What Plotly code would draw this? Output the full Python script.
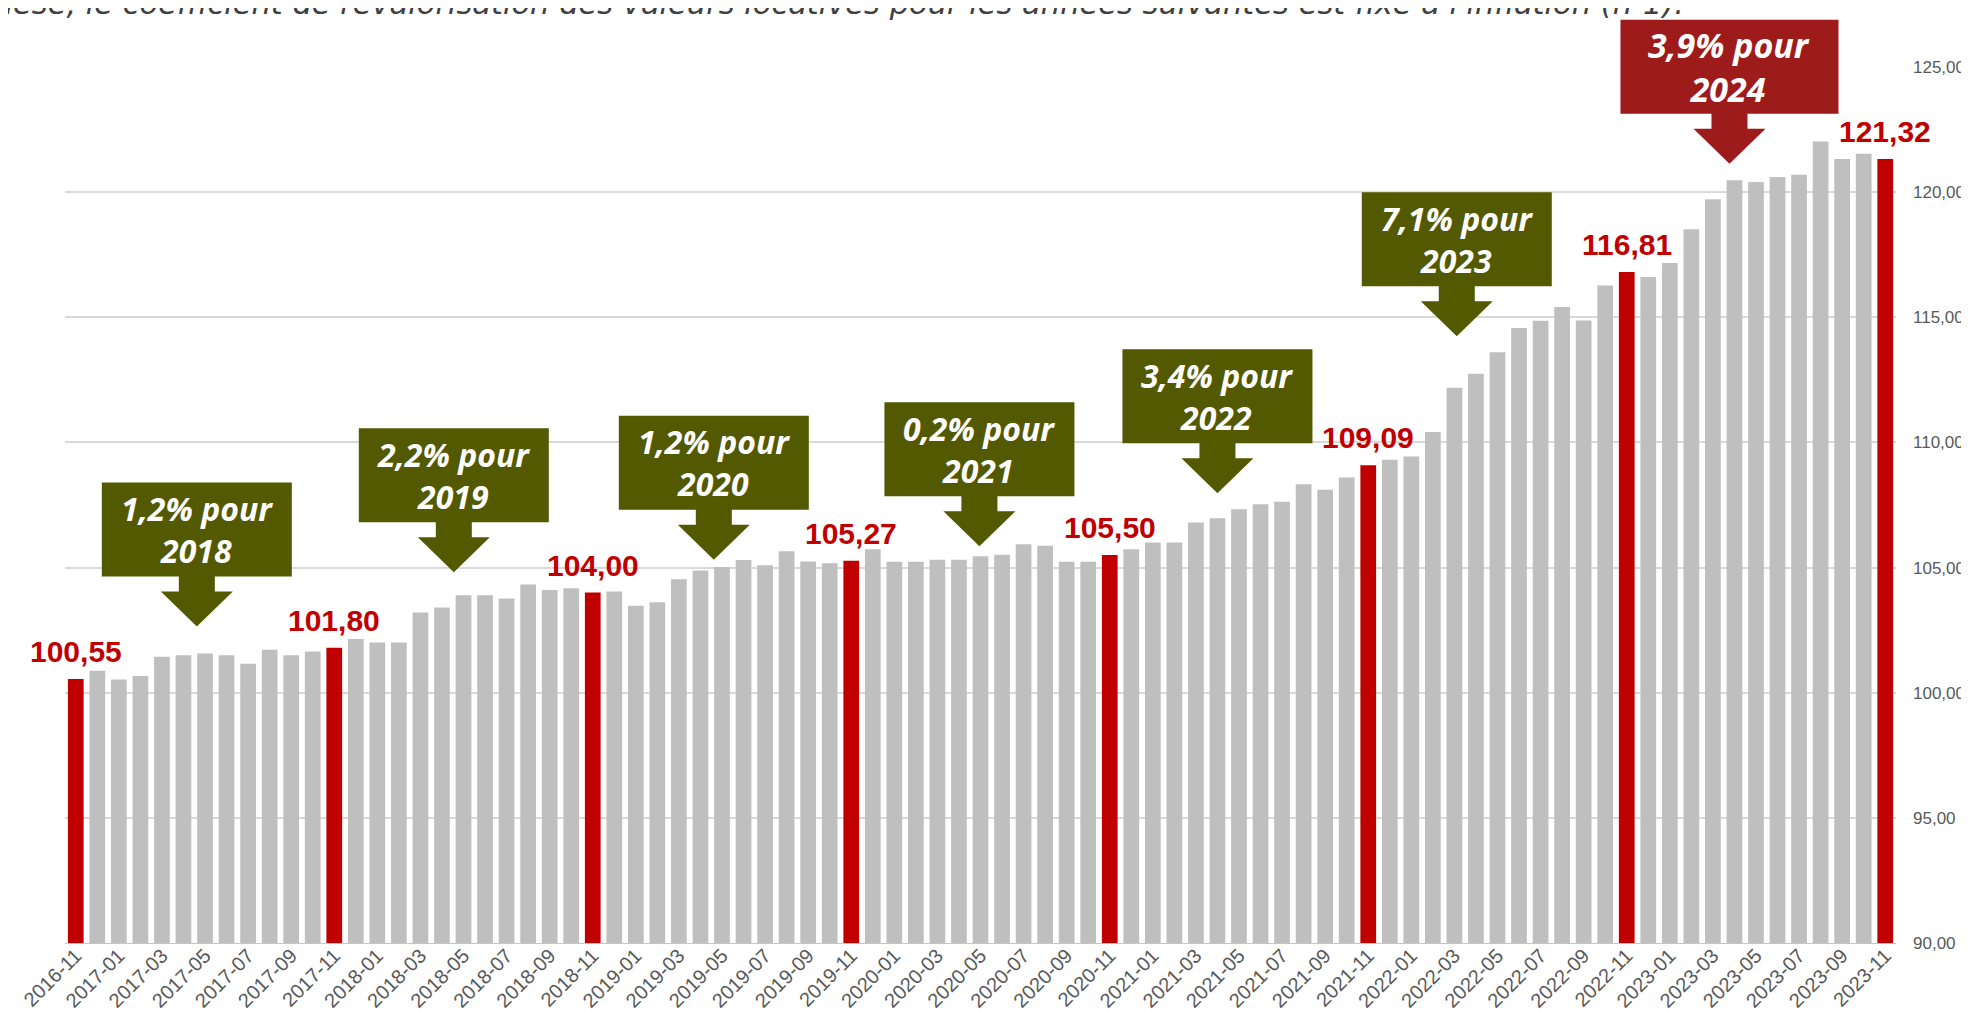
import pandas as pd
import plotly.graph_objects as go

# Months of the series (Nov 2016 -> Nov 2023)
months = [p.strftime("%Y-%m") for p in pd.period_range("2016-11", "2023-11", freq="M")]

# Index values
values = [
    100.55, 100.88, 100.53, 100.67, 101.44, 101.50, 101.57, 101.50, 101.16, 101.72, 101.50, 101.65,
    101.80, 102.15, 102.01, 102.01, 103.20, 103.40, 103.89, 103.89, 103.76, 104.32, 104.10, 104.17,
    104.00, 104.04, 103.47, 103.61, 104.53, 104.88, 105.02, 105.30, 105.09, 105.65, 105.24, 105.17,
    105.27, 105.73, 105.23, 105.23, 105.31, 105.31, 105.45, 105.51, 105.93, 105.87, 105.23, 105.23,
    105.50, 105.73, 106.00, 106.00, 106.80, 106.97, 107.33, 107.53, 107.63, 108.33, 108.11, 108.60,
    109.09, 109.31, 109.44, 110.42, 112.18, 112.74, 113.60, 114.57, 114.86, 115.41, 114.87, 116.27,
    116.81, 116.61, 117.17, 118.52, 119.72, 120.48, 120.41, 120.61, 120.69, 122.02, 121.32, 121.53,
    121.32,
]

# November values are highlighted
highlight_months = ["2016-11", "2017-11", "2018-11", "2019-11", "2020-11", "2021-11", "2022-11", "2023-11"]

# Revaluation callouts
callout_texts = ["1,2% pour<br>2018", "2,2% pour<br>2019", "1,2% pour<br>2020", "0,2% pour<br>2021",
                 "3,4% pour<br>2022", "7,1% pour<br>2023", "3,9% pour<br>2024"]

title_text = ("Par hypothèse, le coefficient de revalorisation des valeurs locatives pour les années "
              "suivantes est fixé à l'inflation (n-1).")

OLIVE = "#535900"
DARKRED = "#9e1b1b"
RED = "#c00000"
GREY = "#bfbfbf"

Y_RANGE = [90, 125]
X_RANGE = [-0.5, len(months) - 0.5]

colors = [RED if m in highlight_months else GREY for m in months]

fig = go.Figure()
fig.add_trace(go.Bar(
    x=months, y=values,
    marker=dict(color=colors, line=dict(width=0)),
    hoverinfo="x+y",
))

# value labels above the red bars
for m, v in zip(months, values):
    if m in highlight_months:
        fig.add_annotation(
            x=m, y=v, text=f"{v:.2f}".replace(".", ","),
            showarrow=False, yanchor="bottom", yshift=9,
            font=dict(family="Liberation Sans, Arial", size=30, color=RED, weight="bold"),
        )

# callout arrows: (bar index the arrow points to, value at the tip)
callout_anchor = [(5.62, 102.65), (17.55, 104.81), (29.62, 105.31), (41.95, 105.85),
                  (53.0, 107.97), (64.11, 114.24), (76.77, 121.13)]


def to_paper(idx, val):
    px = (idx - X_RANGE[0]) / (X_RANGE[1] - X_RANGE[0])
    py = (val - Y_RANGE[0]) / (Y_RANGE[1] - Y_RANGE[0])
    return px, py


for i, (txt, (cx, cy)) in enumerate(zip(callout_texts, callout_anchor)):
    last = i == len(callout_texts) - 1
    col = DARKRED if last else OLIVE
    hw = 109 if last else 95
    path = (f"M 0,0 L -36,35 L -18,35 L -18,50 L -{hw},50 L -{hw},144 "
            f"L {hw},144 L {hw},50 L 18,50 L 18,35 L 36,35 Z")
    ax_, ay_ = to_paper(cx, cy)
    # paper-referenced so the box is not clipped at the top of the plot
    fig.add_shape(type="path", path=path, xsizemode="pixel", ysizemode="pixel",
                  xanchor=ax_, yanchor=ay_, xref="paper", yref="paper",
                  fillcolor=col, line=dict(width=0), layer="above")
    fig.add_annotation(
        x=cx, y=cy, text=txt, showarrow=False, yanchor="middle", yshift=97,
        font=dict(family="Noto Sans, Open Sans", size=34 if last else 32, color="white",
                  weight="bold", style="italic"),
    )

# cut-off sentence at the very top of the picture
fig.add_annotation(
    xref="paper", yref="paper", x=0.8853, y=1.0502, xanchor="right", yanchor="bottom",
    text=title_text, showarrow=False,
    font=dict(family="DejaVu Sans", size=30.5, color="#404040", style="italic"),
)

fig.update_layout(
    width=1969, height=1011,
    margin=dict(l=57, r=81, t=59, b=76, autoexpand=False),
    plot_bgcolor="white", paper_bgcolor="white",
    separators=", ",
    bargap=0.27,
    showlegend=False,
)
fig.update_xaxes(
    type="category", range=X_RANGE, tickangle=-45, tickmode="array", tickvals=months[::2],
    tickfont=dict(family="Liberation Sans, Arial", size=20, color="#595959"),
    showgrid=False, showline=True, linecolor="#e3b9b9", linewidth=1, ticks="",
    ticklabelstandoff=-8, automargin=False,
)
fig.update_yaxes(
    side="right", range=Y_RANGE, tickvals=[90, 95, 100, 105, 110, 115, 120, 125],
    tickformat=".2f", showgrid=True, gridcolor="#d9d9d9", gridwidth=1.5,
    tickfont=dict(family="Liberation Sans, Arial", size=17, color="#595959"),
    ticklabelstandoff=16, zeroline=False, automargin=False,
)

fig.write_html("out.html")
